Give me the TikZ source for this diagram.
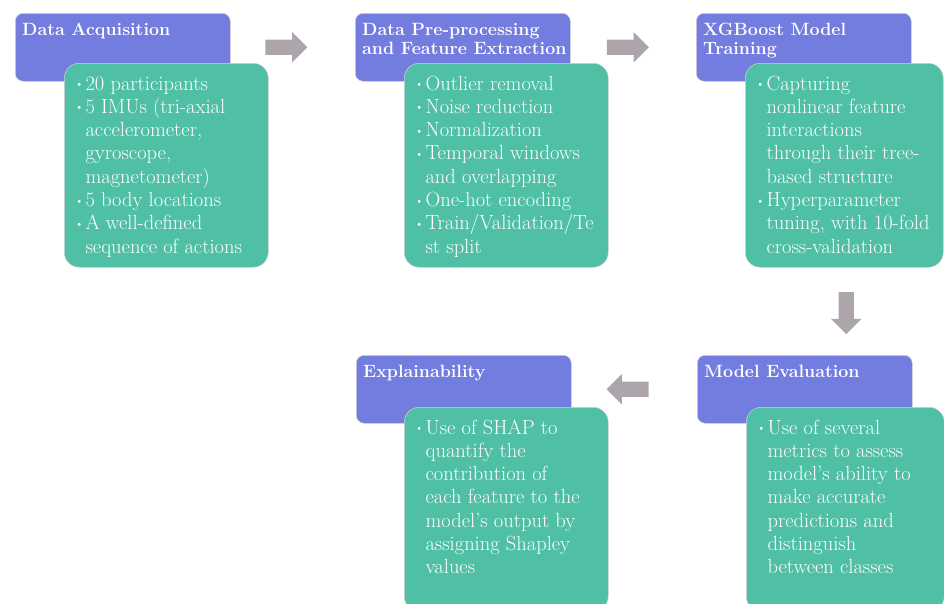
\documentclass[tikz,border=0pt]{standalone}
\usepackage{xcolor}
\usepackage{tikz}
\usetikzlibrary{shapes, shapes.arrows, positioning, calc}
\definecolor{hdrblue}{RGB}{115,124,223}
\definecolor{bodygreen}{RGB}{79,191,165}
\definecolor{flowgray}{RGB}{172,166,172}
\tikzset{
	% stage title box
	hdrbox/.style={
		rectangle,
		rounded corners=8pt,
		fill=hdrblue,
		draw=gray!35,
		line width=0.5pt,
		minimum width=215pt,
		minimum height=68pt,
		anchor=north west,
		inner sep=0pt
	}, %
	% stage content box
	bodybox/.style={
		rectangle,
		rounded corners=15pt,
		fill=bodygreen,
		draw=gray!35,
		line width=0.5pt,
		minimum width=204pt,
		minimum height=204pt,
		anchor=north west,
		inner sep=0pt
	}, %
	hdrtext/.style={
		anchor=base west,
		inner sep=0pt,
		text=white,
		font=\fontsize{17.8}{19.5}\selectfont\bfseries
	}, %
	bodytext/.style={
		anchor=base west,
		inner sep=0pt,
		text=white,
		font=\fontsize{20.5}{23.3}\selectfont
	}, %
	% grey block arrow between stages
	flowarrow/.style={
		single arrow,
		fill=flowgray,
		draw=none,
		inner sep=0pt,
		text height=7.5pt,
		text depth=7.5pt,
		text width=15pt,
		minimum height=42pt,
		single arrow head extend=7.5pt
	} %
}
\newcommand{\itemdot}{\raisebox{2.5pt}{\fontsize{11}{11}\selectfont\textbullet}}

\begin{document}
\begin{tikzpicture}[x=1pt, y=-1pt]
			\useasboundingbox (0,0) rectangle (944,603);
			\clip (0,0) rectangle (944,603);
			
			%% title boxes
			\node [hdrbox] (hdr1) at (15,13) {};
			\node [hdrbox] (hdr2) at (355,13) {};
			\node [hdrbox] (hdr3) at (696,13) {};
			\node [hdrbox] (hdr4) at (697,355) {};
			\node [hdrbox] (hdr5) at (356,355) {};
			
			\node [hdrtext] (ttl1) at ($(hdr1.north west)+(7,22)$) {Data Acquisition};
			\node [hdrtext] (ttl2) at ($(hdr2.north west)+(7,22)$)
				{\begin{tabular}[t]{@{}l@{}}Data Pre-processing\\and Feature Extraction\end{tabular}};
			\node [hdrtext] (ttl3) at ($(hdr3.north west)+(7,22)$)
				{\begin{tabular}[t]{@{}l@{}}XGBoost Model\\Training\end{tabular}};
			\node [hdrtext] (ttl4) at ($(hdr4.north west)+(7,22)$) {Model Evaluation};
			\node [hdrtext] (ttl5) at ($(hdr5.north west)+(7,22)$) {Explainability};
			
			%% content boxes
			\node [bodybox] (body1) at (64,63) {};
			\node [bodybox] (body2) at (404,63) {};
			\node [bodybox, minimum width=198pt] (body3) at (745,63) {};
			\node [bodybox, minimum width=198pt] (body4) at (746,407) {};
			\node [bodybox] (body5) at (404,407) {};
			
			\node [bodytext] (txt1) at ($(body1.north west)+(11,27)$) {%
				\begin{tabular}[t]{@{}l@{\hspace{2pt}}l@{}}
					\itemdot & 20 participants\\
					\itemdot & 5 IMUs (tri-axial\\
					& accelerometer,\\
					& gyroscope,\\
					& magnetometer)\\
					\itemdot & 5 body locations\\
					\itemdot & A well-defined\\
					& sequence of actions
				\end{tabular}};
			\node [bodytext] (txt2) at ($(body2.north west)+(11,27)$) {%
				\begin{tabular}[t]{@{}l@{\hspace{2pt}}l@{}}
					\itemdot & Outlier removal\\
					\itemdot & Noise reduction\\
					\itemdot & Normalization\\
					\itemdot & Temporal windows\\
					& and overlapping\\
					\itemdot & One-hot encoding\\
					\itemdot & Train/Validation/Te\\
					& st split
				\end{tabular}};
			\node [bodytext] (txt3) at ($(body3.north west)+(11,27)$) {%
				\begin{tabular}[t]{@{}l@{\hspace{2pt}}l@{}}
					\itemdot & Capturing\\
					& nonlinear feature\\
					& interactions\\
					& through their tree-\\
					& based structure\\
					\itemdot & Hyperparameter\\
					& tuning, with 10-fold\\
					& cross-validation
				\end{tabular}};
			\node [bodytext] (txt4) at ($(body4.north west)+(11,27)$) {%
				\begin{tabular}[t]{@{}l@{\hspace{2pt}}l@{}}
					\itemdot & Use of several\\
					& metrics to assess\\
					& model’s ability to\\
					& make accurate\\
					& predictions and\\
					& distinguish\\
					& between classes
				\end{tabular}};
			\node [bodytext] (txt5) at ($(body5.north west)+(11,27)$) {%
				\begin{tabular}[t]{@{}l@{\hspace{2pt}}l@{}}
					\itemdot & Use of SHAP to\\
					& quantify the\\
					& contribution of\\
					& each feature to the\\
					& model’s output by\\
					& assigning Shapley\\
					& values
				\end{tabular}};
			
			%% arrows between stages
			\node [flowarrow, xshift=-4pt] (arr12) at ($(hdr1.east)!0.45!(hdr2.west)$) {};
			\node [flowarrow, xshift=-3pt] (arr23) at ($(hdr2.east)!0.45!(hdr3.west)$) {};
			\node [flowarrow, shape border rotate=270, xshift=2pt, yshift=2pt] (arr34) at ($(body3.south)!0.5!(body3.south |- hdr4.north)$) {};
			\node [flowarrow, shape border rotate=180, xshift=3.5pt] (arr45) at ($(hdr4.west)!0.55!(hdr5.east)$) {};
		\end{tikzpicture}
\end{document}
